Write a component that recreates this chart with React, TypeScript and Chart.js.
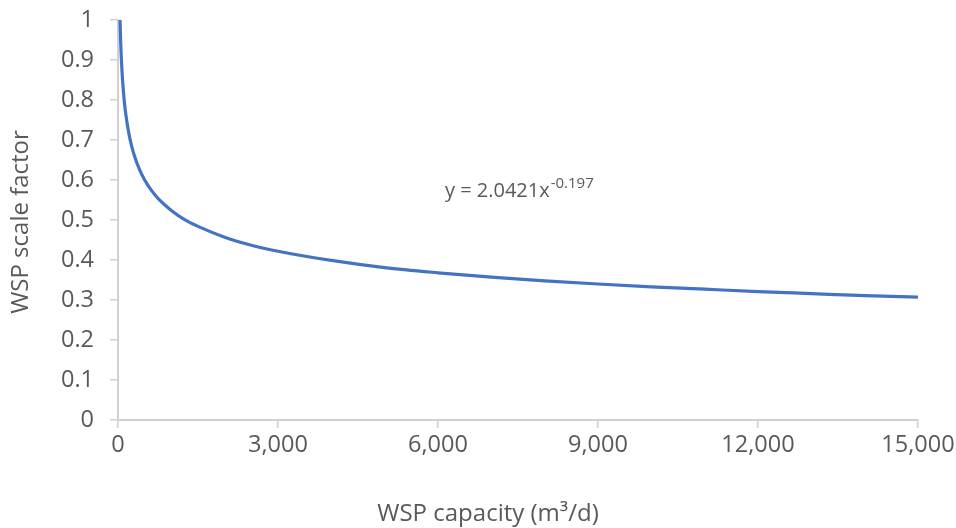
import React, { useEffect, useRef } from "react";
import { Chart, registerables } from "chart.js";

Chart.register(...registerables);

// Values
const capacity = [38, 50, 60, 75, 100, 125, 150, 200, 250, 300, 400, 500, 600, 750, 1000, 1250, 1500, 2000, 2500, 3000, 4000, 5000, 6000, 7000, 8000, 9000, 10000, 11000, 12000, 13000, 14000, 15000];
const scaleFactor = [1.0, 0.945, 0.912, 0.872, 0.824, 0.788, 0.761, 0.719, 0.688, 0.664, 0.627, 0.6, 0.579, 0.554, 0.524, 0.501, 0.484, 0.457, 0.437, 0.422, 0.399, 0.381, 0.368, 0.357, 0.348, 0.34, 0.333, 0.327, 0.321, 0.316, 0.311, 0.307];
const xTicks = [0, 3000, 6000, 9000, 12000, 15000];
const yTicks = [0, 0.1, 0.2, 0.3, 0.4, 0.5, 0.6, 0.7, 0.8, 0.9, 1];
const xTitle = "WSP capacity (m³/d)";
const yTitle = "WSP scale factor";
const eqMain = "y = 2.0421x";
const eqExp = "-0.197";

const FONT = "'Open Sans', sans-serif";
const TEXT = "#595959";

const textPlugin = {
  id: "textPlugin",
  afterDraw(chart: any) {
    const ctx = chart.ctx;
    ctx.save();
    ctx.fillStyle = TEXT;
    // x title
    ctx.font = `24px ${FONT}`;
    ctx.textAlign = "center";
    ctx.textBaseline = "middle";
    ctx.fillText(xTitle, 488, 514);
    // y title
    ctx.save();
    ctx.translate(21, 222);
    ctx.rotate(-Math.PI / 2);
    ctx.fillText(yTitle, 0, 0);
    ctx.restore();
    // equation
    const xs = chart.scales.x;
    const ys = chart.scales.y;
    const ex = xs.getPixelForValue(6130);
    const ey = ys.getPixelForValue(0.5575);
    ctx.textAlign = "left";
    ctx.textBaseline = "alphabetic";
    ctx.font = `20px ${FONT}`;
    ctx.fillText(eqMain, ex, ey);
    const w = ctx.measureText(eqMain).width;
    ctx.font = `15px ${FONT}`;
    ctx.fillText(eqExp, ex + w + 1, ey - 9);
    ctx.restore();
  },
};

export default function App() {
  const ref = useRef<HTMLCanvasElement>(null);
  useEffect(() => {
    document.body.style.margin = "0";
    const data = capacity.map((x, i) => ({ x, y: scaleFactor[i] }));
    const chart = new Chart(ref.current!, {
      type: "line",
      data: {
        datasets: [
          {
            data,
            borderColor: "#4472C4",
            borderWidth: 3.2,
            pointRadius: 0,
            cubicInterpolationMode: "monotone",
            fill: false,
          },
        ],
      },
      options: {
        animation: false,
        responsive: false,
        layout: { padding: { top: 20, right: 38, bottom: 0, left: 0 } },
        plugins: { legend: { display: false }, tooltip: { enabled: false } },
        scales: {
          x: {
            type: "linear",
            min: 0,
            max: 15000,
            afterFit: (s: any) => {
              s.height = 108;
              s.paddingLeft = 0;
              s.paddingRight = 0;
            },
            afterBuildTicks: (s: any) => {
              s.ticks = xTicks.map((v) => ({ value: v }));
            },
            ticks: {
              color: TEXT,
              font: { family: FONT, size: 23.5 },
              padding: 3,
              maxRotation: 0,
              callback: (v: any) => Number(v).toLocaleString("en-US"),
            },
            grid: {
              drawOnChartArea: false,
              drawTicks: true,
              tickLength: 8,
              color: "#d0d0d0",
              lineWidth: 1.5,
            },
            border: { color: "#d0d0d0", width: 2 },
          },
          y: {
            type: "linear",
            min: 0,
            max: 1,
            afterFit: (s: any) => {
              s.width = 118;
              s.paddingTop = 0;
              s.paddingBottom = 0;
            },
            afterBuildTicks: (s: any) => {
              s.ticks = yTicks.map((v) => ({ value: v }));
            },
            ticks: {
              color: TEXT,
              font: { family: FONT, size: 23.5 },
              padding: 16,
              callback: (v: any) => String(Number(Number(v).toFixed(1))),
            },
            grid: {
              drawOnChartArea: false,
              drawTicks: true,
              tickLength: 8,
              color: "#d0d0d0",
              lineWidth: 1.5,
            },
            border: { color: "#d0d0d0", width: 2 },
          },
        },
      },
      plugins: [textPlugin],
    } as any);
    return () => chart.destroy();
  }, []);
  return (
    <div style={{ width: 956, height: 528, background: "#fff" }}>
      <canvas ref={ref} width={956} height={528} style={{ display: "block" }} />
    </div>
  );
}
